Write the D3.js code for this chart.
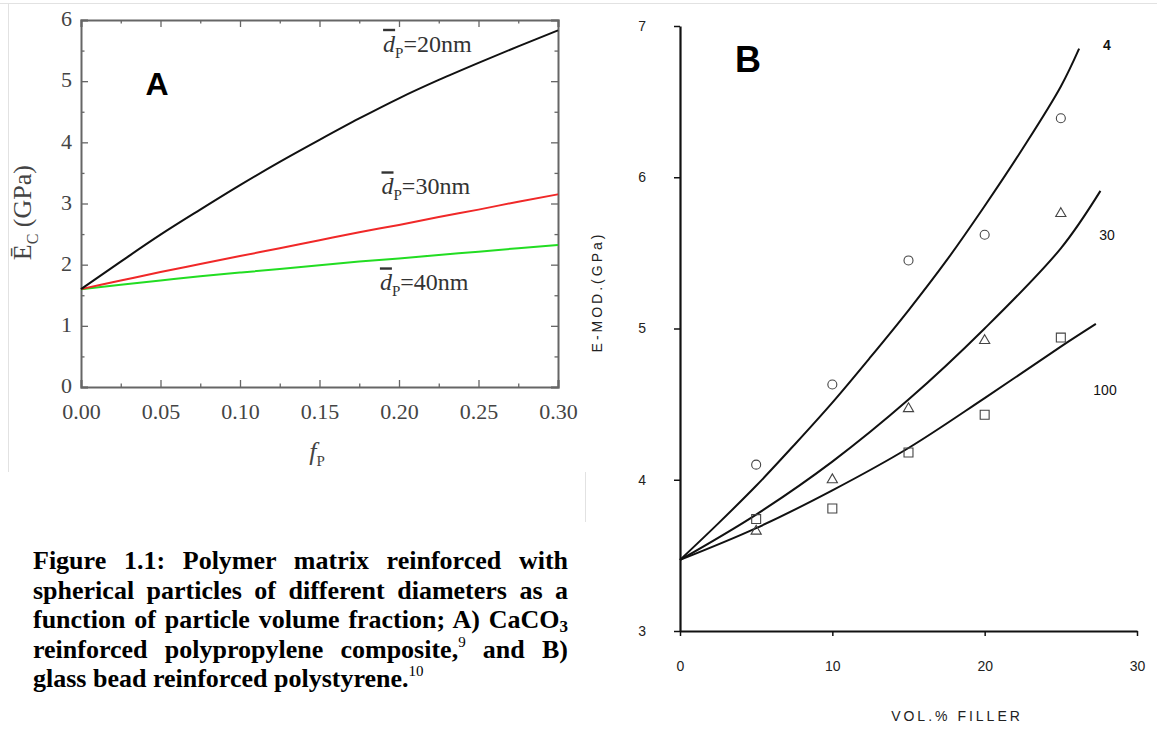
<!DOCTYPE html>
<html>
<head>
<meta charset="utf-8">
<script src="https://cdn.jsdelivr.net/npm/d3@7"></script>
<style>
  body { margin: 0; background: #fff; }
  #wrap { position: relative; width: 1157px; height: 729px; overflow: hidden; }
  #caption {
    position: absolute; left: 33px; top: 546px; width: 535px;
    font-family: "Liberation Serif", "Times New Roman", serif;
    font-weight: bold; font-size: 26px; line-height: 29.5px; color: #000;
  }
  #caption .ln { text-align: justify; text-align-last: justify; white-space: nowrap; }
  #caption .ln.last { text-align-last: left; }
  #caption sub { font-size: 17px; vertical-align: -4px; line-height: 0; }
  #caption sup { font-size: 15px; vertical-align: 11px; line-height: 0; font-weight: normal; }
</style>
</head>
<body>
<div id="wrap">
  <svg id="chart" width="1157" height="729"></svg>
  <div id="caption">
    <div class="ln">Figure 1.1: Polymer matrix reinforced with</div>
    <div class="ln">spherical particles of different diameters as a</div>
    <div class="ln">function of particle volume fraction; A) CaCO<sub>3</sub></div>
    <div class="ln">reinforced polypropylene composite,<sup>9</sup> and B)</div>
    <div class="ln last">glass bead reinforced polystyrene.<sup>10</sup></div>
  </div>
</div>
<script>
// ---- Panel A data (E_c vs particle volume fraction) ----
const fP = [0, 0.025, 0.05, 0.075, 0.10, 0.125, 0.15, 0.175, 0.20, 0.225, 0.25, 0.275, 0.30];
const ec20nm = [1.60, 2.05, 2.49, 2.90, 3.30, 3.68, 4.04, 4.39, 4.72, 5.02, 5.30, 5.57, 5.83];
const ec30nm = [1.60, 1.74, 1.88, 2.01, 2.14, 2.27, 2.40, 2.53, 2.65, 2.78, 2.90, 3.03, 3.15];
const ec40nm = [1.60, 1.67, 1.74, 1.81, 1.87, 1.93, 1.99, 2.05, 2.10, 2.16, 2.21, 2.27, 2.32];
const xTicksA = [0, 0.05, 0.10, 0.15, 0.20, 0.25, 0.30];
const yTicksA = [0, 1, 2, 3, 4, 5, 6];

// ---- Panel B data (E-MOD vs vol.% filler) ----
const vol4 = [0, 2.5, 5, 7.5, 10, 12.5, 15, 17.5, 20, 22.5, 25, 26.2];
const emod4 = [3.47, 3.71, 3.96, 4.23, 4.51, 4.81, 5.12, 5.45, 5.81, 6.19, 6.60, 6.85];
const vol30 = [0, 5, 10, 15, 20, 25, 27.6];
const emod30 = [3.47, 3.77, 4.12, 4.53, 5.00, 5.53, 5.91];
const vol100 = [0, 5, 10, 15, 20, 25, 27.3];
const emod100 = [3.47, 3.68, 3.93, 4.21, 4.54, 4.88, 5.03];
const volPts = [5, 10, 15, 20, 25];
const circlePts = [4.10, 4.63, 5.45, 5.62, 6.39];
const trianglePts = [3.66, 4.00, 4.47, 4.92, 5.76];
const squarePts = [3.74, 3.81, 4.18, 4.43, 4.94];
const xTicksB = [0, 10, 20, 30];
const yTicksB = [3, 4, 5, 6, 7];

const svg = d3.select("#chart");
const serif = "'Liberation Serif', 'Times New Roman', serif";
const sans = "'Liberation Sans', Arial, sans-serif";

// faint picture borders from the scanned figure
svg.append("line").attr("x1", 0).attr("x2", 1157).attr("y1", 3.5).attr("y2", 3.5)
  .attr("stroke", "#e2e2e2");
svg.append("line").attr("x1", 8.5).attr("x2", 8.5).attr("y1", 3).attr("y2", 472)
  .attr("stroke", "#e2e2e2");
svg.append("line").attr("x1", 585.5).attr("x2", 585.5).attr("y1", 472).attr("y2", 522)
  .attr("stroke", "#e2e2e2");

// ================= Panel A =================
const xA = d3.scaleLinear().domain([0, 0.30]).range([81, 558]);
const yA = d3.scaleLinear().domain([0, 6]).range([387, 20]);
const gA = svg.append("g");
const frameCol = "#666";

function minorTicks(ticks) {
  const out = [];
  for (let i = 0; i < ticks.length - 1; i++) out.push((ticks[i] + ticks[i + 1]) / 2);
  return out;
}

// minor ticks (inward, all four sides)
[[d3.axisBottom(xA), `translate(0,${yA(0)})`, minorTicks(xTicksA)],
 [d3.axisTop(xA), `translate(0,${yA(6)})`, minorTicks(xTicksA)],
 [d3.axisLeft(yA), `translate(${xA(0)},0)`, minorTicks(yTicksA)],
 [d3.axisRight(yA), `translate(${xA(0.30)},0)`, minorTicks(yTicksA)]]
.forEach(([ax, tr, vals]) => {
  gA.append("g").attr("transform", tr)
    .call(ax.tickValues(vals).tickSize(-3.5).tickFormat(""))
    .call(g => g.select(".domain").remove())
    .call(g => g.selectAll("line").attr("stroke", frameCol).attr("stroke-width", 1.3));
});

// major ticks
const xAxA = gA.append("g").attr("transform", `translate(0,${yA(0)})`)
  .call(d3.axisBottom(xA).tickValues(xTicksA).tickSize(-7).tickPadding(16)
    .tickFormat(d3.format(".2f")));
gA.append("g").attr("transform", `translate(0,${yA(6)})`)
  .call(d3.axisTop(xA).tickValues(xTicksA).tickSize(-7).tickFormat(""));
const yAxA = gA.append("g").attr("transform", `translate(${xA(0)},0)`)
  .call(d3.axisLeft(yA).tickValues(yTicksA).tickSize(-7).tickPadding(9)
    .tickFormat(d3.format("d")));
gA.append("g").attr("transform", `translate(${xA(0.30)},0)`)
  .call(d3.axisRight(yA).tickValues(yTicksA).tickSize(-7).tickFormat(""));
gA.selectAll(".domain").attr("stroke", frameCol).attr("stroke-width", 2);
gA.selectAll(".tick line").attr("stroke", frameCol).attr("stroke-width", 1.3);
gA.selectAll(".tick text").attr("fill", "#444").style("font-family", serif)
  .style("font-size", "22px");
yAxA.selectAll(".tick text").attr("dy", "0.26em");

// curves
const lineA = d3.line().x((d, i) => xA(fP[i])).y(d => yA(d)).curve(d3.curveMonotoneX);
[[ec40nm, "#22dd22"], [ec30nm, "#f02828"], [ec20nm, "#111"]].forEach(([s, c]) => {
  gA.append("path").datum(s).attr("d", lineA).attr("fill", "none")
    .attr("stroke", c).attr("stroke-width", 2);
});

// curve labels
const labelsA = [["20nm", 0.19, 5.48], ["30nm", 0.189, 3.15], ["40nm", 0.188, 1.58]];
labelsA.forEach(([t, fx, ey]) => {
  const tx = gA.append("text").attr("x", xA(fx)).attr("y", yA(ey))
    .style("font-family", serif).style("font-size", "24px").attr("fill", "#333");
  tx.append("tspan").text("d").style("font-style", "italic")
    .style("text-decoration", "overline");
  tx.append("tspan").text("P").attr("dy", 6).style("font-size", "15px");
  tx.append("tspan").text("=" + t).attr("dy", -6);
});

// axis titles
const yTitleA = gA.append("text")
  .attr("transform", `translate(31,${(yA(2.85))}) rotate(-90)`)
  .attr("text-anchor", "middle").style("font-family", serif).style("font-size", "26px")
  .attr("fill", "#444");
yTitleA.append("tspan").text("\u0112");
yTitleA.append("tspan").text("C").attr("dy", 7).style("font-size", "16px");
yTitleA.append("tspan").text(" (GPa)").attr("dy", -7);

const xTitleA = gA.append("text").attr("x", xA(0.1485)).attr("y", 460)
  .attr("text-anchor", "middle").style("font-family", serif).style("font-size", "26px")
  .attr("fill", "#444");
xTitleA.append("tspan").text("f").style("font-style", "italic");
xTitleA.append("tspan").text("P").attr("dy", 6).style("font-size", "15px");

gA.append("text").attr("x", 157).attr("y", 95).attr("text-anchor", "middle")
  .style("font-family", sans).style("font-weight", "bold").style("font-size", "32px")
  .text("A");

// ================= Panel B =================
const xB = d3.scaleLinear().domain([0, 30]).range([680, 1137]);
const yB = d3.scaleLinear().domain([3, 7]).range([631, 26]);
const gB = svg.append("g");

gB.append("g").attr("transform", `translate(0,${yB(3)})`)
  .call(d3.axisBottom(xB).tickValues(xTicksB).tickSize(5).tickSizeOuter(0).tickPadding(25)
    .tickFormat(d3.format("d")));
gB.append("g").attr("transform", `translate(${xB(0)},0)`)
  .call(d3.axisLeft(yB).tickValues(yTicksB).tickSize(6).tickSizeOuter(0).tickPadding(28)
    .tickFormat(d3.format("d")));
gB.selectAll(".domain").attr("stroke", "#111").attr("stroke-width", 2.2);
gB.selectAll(".tick line").attr("stroke", "#111").attr("stroke-width", 1.5);
gB.selectAll(".tick text").attr("fill", "#222").style("font-family", sans)
  .style("font-size", "14px");

const lineB = (vs) => d3.line().x((d, i) => xB(vs[i])).y(d => yB(d))
  .curve(d3.curveCatmullRom.alpha(0.5));
[[vol4, emod4], [vol30, emod30], [vol100, emod100]].forEach(([vs, es]) => {
  gB.append("path").datum(es).attr("d", lineB(vs)).attr("fill", "none")
    .attr("stroke", "#111").attr("stroke-width", 2);
});

// data markers
const mkStroke = "#444";
gB.selectAll(".circ").data(circlePts).enter().append("circle")
  .attr("cx", (d, i) => xB(volPts[i])).attr("cy", d => yB(d)).attr("r", 4.5)
  .attr("fill", "none").attr("stroke", mkStroke).attr("stroke-width", 1.1);
gB.selectAll(".tri").data(trianglePts).enter().append("path")
  .attr("transform", (d, i) => `translate(${xB(volPts[i])},${yB(d)})`)
  .attr("d", d3.symbol(d3.symbolTriangle, 45))
  .attr("fill", "none").attr("stroke", mkStroke).attr("stroke-width", 1.1);
gB.selectAll(".sq").data(squarePts).enter().append("path")
  .attr("transform", (d, i) => `translate(${xB(volPts[i])},${yB(d)})`)
  .attr("d", d3.symbol(d3.symbolSquare, 80))
  .attr("fill", "none").attr("stroke", mkStroke).attr("stroke-width", 1.1);

// curve labels
[["4", 1107, 50, "bold"], ["30", 1107, 240, "normal"], ["100", 1105, 395, "normal"]]
.forEach(([t, x, y, w]) => {
  gB.append("text").attr("x", x).attr("y", y).attr("text-anchor", "middle")
    .style("font-family", sans).style("font-size", "14px").style("font-weight", w)
    .attr("fill", "#111").text(t);
});

gB.append("text").attr("transform", "translate(602,292) rotate(-90)")
  .attr("text-anchor", "middle").style("font-family", sans).style("font-size", "14px")
  .style("letter-spacing", "3px").attr("fill", "#222").text("E-MOD.(GPa)");
gB.append("text").attr("x", 957).attr("y", 721).attr("text-anchor", "middle")
  .style("font-family", sans).style("font-size", "14px").style("letter-spacing", "3px")
  .attr("fill", "#222").text("VOL.% FILLER");

gB.append("text").attr("x", 748).attr("y", 72).attr("text-anchor", "middle")
  .style("font-family", sans).style("font-weight", "bold").style("font-size", "36px")
  .text("B");
</script>
</body>
</html>
